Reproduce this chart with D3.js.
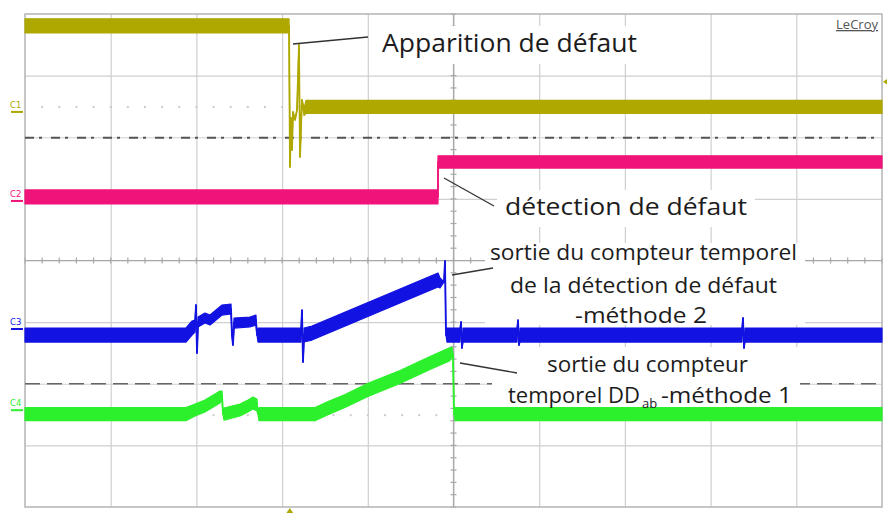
<!DOCTYPE html>
<html><head><meta charset="utf-8">
<script src="https://cdn.jsdelivr.net/npm/d3@7"></script>
<style>
html,body{margin:0;padding:0;background:#fff;}
svg{display:block;}
</style></head>
<body>
<svg id="chart" width="887" height="513"></svg>
<script>
// ---------- DATA (time in divisions 0..10, level in divisions -4..4, band = noise half-height in divisions)
const c1Time  = [0, 3.081, 3.092, 3.104, 3.116, 3.127, 3.151, 3.174, 3.197, 3.209, 3.232, 3.256, 3.279, 10];
const c1Level = [3.807, 3.807, 1.518, 2.313, 1.794, 2.411, 2.281, 2.443, 3.498, 1.680, 2.606, 2.411, 2.492, 2.492];
const c1Band  = [0.114, 0.114, 0, 0, 0, 0, 0, 0, 0, 0, 0, 0.06, 0.106, 0.106];

const c2Time  = [0, 4.819, 4.819, 10];
const c2Level = [1.031, 1.031, 1.599, 1.599];
const c2Band  = [0.114, 0.114, 0.1, 0.1];

const c3Time  = [0, 1.879, 1.949, 1.984, 1.995, 2.007, 2.019, 2.100, 2.159, 2.229, 2.299, 2.404, 2.415, 2.427, 2.439, 2.625, 2.695, 2.707, 2.719,
                 3.221, 3.232, 3.244, 3.256, 3.349, 4.819, 4.843, 4.889, 4.901, 4.912, 4.924,
                 5.076, 5.088, 5.099, 5.111, 5.741, 5.753, 5.764, 5.776, 8.366, 8.378, 8.390, 8.401, 10];
const c3Level = [-1.209, -1.209, -1.096, -1.063, -0.722, -1.502, -0.998, -0.933, -0.966, -0.885, -0.804, -0.787, -1.209, -1.372, -1.015, -0.998, -0.966, -1.209, -1.209,
                 -1.209, -0.804, -1.648, -1.209, -1.177, -0.317, -0.365, -0.349, -0.008, -1.209, -1.209,
                 -1.209, -0.998, -1.420, -1.209, -1.209, -0.966, -1.372, -1.209, -1.209, -0.933, -1.420, -1.209, -1.209];
const c3Band  = [0.114, 0.114, 0.114, 0.097, 0, 0, 0.081, 0.081, 0.081, 0.081, 0.081, 0.081, 0, 0, 0.081, 0.081, 0.081, 0, 0.114,
                 0.114, 0, 0, 0.114, 0.114, 0.114, 0.081, 0, 0, 0, 0.114,
                 0.114, 0, 0, 0.114, 0.114, 0, 0, 0.114, 0.114, 0, 0, 0.114, 0.114];

const c4Time  = [0, 1.879, 1.984, 2.100, 2.217, 2.275, 2.299, 2.310, 2.322, 2.509, 2.602, 2.660, 2.707, 2.719, 2.730,
                 3.384, 3.530, 3.734, 4.002, 4.376, 4.726, 4.959, 4.982, 4.994, 5.006, 5.018, 10];
const c4Level = [-2.492, -2.492, -2.427, -2.362, -2.265, -2.216, -2.183, -2.492, -2.492, -2.427, -2.362, -2.313, -2.346, -2.492, -2.492,
                 -2.492, -2.400, -2.280, -2.100, -1.891, -1.664, -1.518, -1.485, -1.534, -2.492, -2.492, -2.492];
const c4Band  = [0.106, 0.106, 0.097, 0.097, 0.097, 0.097, 0.065, 0, 0.097, 0.097, 0.097, 0.097, 0.097, 0, 0.106,
                 0.106, 0.106, 0.106, 0.106, 0.106, 0.106, 0.106, 0.081, 0, 0, 0.106, 0.106];

const channelNames  = ["C1", "C2", "C3", "C4"];
const channelColors = ["#aea800", "#f0147a", "#1212e2", "#2cf02c"];
const groundLevels  = [2.492, 1.031, -1.209, -2.51];   // channel offsets (dotted markers)
const dashDotLevel  = 1.99;    // threshold line
const dashedLevel   = -2.0;    // threshold line
const triggerTime   = 3.09;
const triggerLevel  = 2.9;

// ---------- SCALES
const W = 887, H = 513;
const plot = {left: 25, right: 882, top: 14, bottom: 507};
const x = d3.scaleLinear().domain([0, 10]).range([plot.left, plot.right]);
const y = d3.scaleLinear().domain([-4, 4]).range([plot.bottom, plot.top]);

const svg = d3.select("#chart");
svg.append("rect").attr("width", W).attr("height", H).attr("fill", "#fff");

// ---------- GRID (via axes)
const gridX = d3.axisBottom(x).tickValues(d3.range(1, 10)).tickSize(-(plot.bottom - plot.top)).tickFormat("");
svg.append("g").attr("transform", `translate(0,${plot.bottom})`).call(gridX)
  .call(g => g.select(".domain").remove())
  .call(g => g.selectAll("line").attr("stroke", "#cfcfcf").attr("stroke-width", 1.2));
const gridY = d3.axisLeft(y).tickValues(d3.range(-3, 4)).tickSize(-(plot.right - plot.left)).tickFormat("");
svg.append("g").attr("transform", `translate(${plot.left},0)`).call(gridY)
  .call(g => g.select(".domain").remove())
  .call(g => g.selectAll("line").attr("stroke", "#cfcfcf").attr("stroke-width", 1.2));

// center cross with minor ticks
const cx = x(5), cy = y(0);
svg.append("line").attr("x1", plot.left).attr("x2", plot.right).attr("y1", cy).attr("y2", cy).attr("stroke", "#a8a8a8").attr("stroke-width", 1.2);
svg.append("line").attr("x1", cx).attr("x2", cx).attr("y1", plot.top).attr("y2", plot.bottom).attr("stroke", "#a8a8a8").attr("stroke-width", 1.2);
svg.append("g").selectAll("line").data(d3.range(0, 10.001, 0.2)).join("line")
  .attr("x1", d => x(d)).attr("x2", d => x(d)).attr("y1", cy - 3).attr("y2", cy + 3)
  .attr("stroke", "#a8a8a8").attr("stroke-width", 1.2);
svg.append("g").selectAll("line").data(d3.range(-4, 4.001, 0.2)).join("line")
  .attr("x1", cx - 3).attr("x2", cx + 3).attr("y1", d => y(d)).attr("y2", d => y(d))
  .attr("stroke", "#a8a8a8").attr("stroke-width", 1.2);

// border
svg.append("rect").attr("x", plot.left).attr("y", plot.top)
  .attr("width", plot.right - plot.left).attr("height", plot.bottom - plot.top)
  .attr("fill", "none").attr("stroke", "#b4b4b4").attr("stroke-width", 1.5);

// dotted ground-level markers (C1, C4)
[groundLevels[0], groundLevels[3]].forEach(lv => {
  svg.append("g").selectAll("rect").data(d3.range(0.2, 10, 0.2)).join("rect")
    .attr("x", d => x(d) - 1).attr("y", y(lv) - 1).attr("width", 2).attr("height", 2)
    .attr("fill", "#cacaca");
});

// threshold lines
svg.append("line").attr("x1", plot.left).attr("x2", plot.right).attr("y1", y(dashDotLevel)).attr("y2", y(dashDotLevel))
  .attr("stroke", "#555").attr("stroke-width", 2).attr("stroke-dasharray", "9,5,3,9");
svg.append("line").attr("x1", plot.left).attr("x2", plot.right).attr("y1", y(dashedLevel)).attr("y2", y(dashedLevel))
  .attr("stroke", "#666").attr("stroke-width", 1.6).attr("stroke-dasharray", "15,7");

// ---------- TRACES
const channels = [
  {t: c1Time, v: c1Level, b: c1Band},
  {t: c2Time, v: c2Level, b: c2Band},
  {t: c3Time, v: c3Level, b: c3Band},
  {t: c4Time, v: c4Level, b: c4Band}
];
const area = d3.area().x(d => x(d.t)).y0(d => y(d.v - d.b)).y1(d => y(d.v + d.b)).curve(d3.curveLinear);
const line = d3.line().x(d => x(d.t)).y(d => y(d.v)).curve(d3.curveLinear);

// white boxes behind the annotation text (they hide grid & dashed line in the original)
const boxes = [
  [376, 26, 268, 38],
  [497, 190, 258, 37],
  [485, 243, 320, 82],
  [492, 347, 308, 62]
];

channels.forEach((ch, i) => {
  const pts = ch.t.map((t, k) => ({t, v: ch.v[k], b: ch.b[k]}));
  const g = svg.append("g");
  g.append("path").datum(pts).attr("d", area).attr("fill", channelColors[i])
    .attr("stroke", channelColors[i]).attr("stroke-width", 1.2).attr("stroke-linejoin", "round");
  g.append("path").datum(pts).attr("d", line).attr("fill", "none")
    .attr("stroke", channelColors[i]).attr("stroke-width", 1.8).attr("stroke-linejoin", "round");
  if (i === 0) {
    // the text boxes sit above the grid but below channels C3/C4 traces; place them after C1
  }
});

// channel labels
const labelDy = [1, 0, -10, -9];
channelNames.forEach((n, i) => {
  const ly = y(groundLevels[i]) + labelDy[i];
  svg.append("text").attr("x", 10).attr("y", ly).text(n)
    .attr("font-family", "DejaVu Sans, sans-serif").attr("font-size", 8.5)
    .attr("fill", channelColors[i]);
  svg.append("line").attr("x1", 11).attr("x2", 23).attr("y1", ly + 4).attr("y2", ly + 4)
    .attr("stroke", channelColors[i]).attr("stroke-width", 2);
});

// trigger markers
svg.append("path").attr("d", `M${plot.right + 1},${y(triggerLevel)} l6,-4 l0,8 z`).attr("fill", channelColors[0]);
svg.append("path").attr("d", `M${x(triggerTime)},${plot.bottom + 1} l-4,6 l8,0 z`).attr("fill", channelColors[0]);

// LeCroy logo
svg.append("text").attr("x", 878).attr("y", 29).attr("text-anchor", "end")
  .attr("font-family", "Open Sans, sans-serif").attr("font-size", 13).attr("fill", "#555")
  .attr("text-decoration", "underline").text("LeCroy");

// ---------- ANNOTATIONS
const annColor = "#1c1c1c";
// white text boxes: inserted just above grid/threshold lines, below traces
const traceGroups = svg.selectAll("g").filter(function() { return this.querySelector("path"); });
boxes.forEach(b => {
  svg.insert("rect", () => traceGroups.node())
    .attr("x", b[0]).attr("y", b[1]).attr("width", b[2]).attr("height", b[3]).attr("fill", "#fff");
});

const leaders = [
  [[293, 44], [368, 37]],
  [[444, 178], [494, 206]],
  [[452, 275], [493, 268]],
  [[460, 363], [517, 373]]
];
leaders.forEach(l => svg.append("line").attr("x1", l[0][0]).attr("y1", l[0][1]).attr("x2", l[1][0]).attr("y2", l[1][1])
  .attr("stroke", "#333").attr("stroke-width", 1.3));

const texts = [
  {s: "Apparition de défaut", x: 382, y: 52, w: 255, fs: 26},
  {s: "détection de défaut", x: 505, y: 215, w: 242, fs: 24},
  {s: "sortie du compteur temporel", x: 490, y: 260, w: 307, fs: 21},
  {s: "de la détection de défaut", x: 510, y: 293, w: 267, fs: 21},
  {s: "-méthode 2", x: 575, y: 323, w: 132, fs: 21},
  {s: "sortie du compteur", x: 547, y: 372, w: 201, fs: 21}
];
texts.forEach(t => svg.append("text").attr("x", t.x).attr("y", t.y).text(t.s)
  .attr("font-family", "Open Sans, sans-serif").attr("font-size", t.fs).attr("fill", annColor)
  .attr("textLength", t.w).attr("lengthAdjust", "spacingAndGlyphs"));

svg.append("text").attr("x", 508).attr("y", 403).text("temporel DD")
  .attr("font-family", "Open Sans, sans-serif").attr("font-size", 21).attr("fill", annColor)
  .attr("textLength", 132).attr("lengthAdjust", "spacingAndGlyphs");
svg.append("text").attr("x", 642).attr("y", 408).text("ab")
  .attr("font-family", "Open Sans, sans-serif").attr("font-size", 13).attr("fill", annColor);
svg.append("text").attr("x", 661).attr("y", 403).text("-méthode 1")
  .attr("font-family", "Open Sans, sans-serif").attr("font-size", 21).attr("fill", annColor)
  .attr("textLength", 131).attr("lengthAdjust", "spacingAndGlyphs");
</script>
</body></html>
